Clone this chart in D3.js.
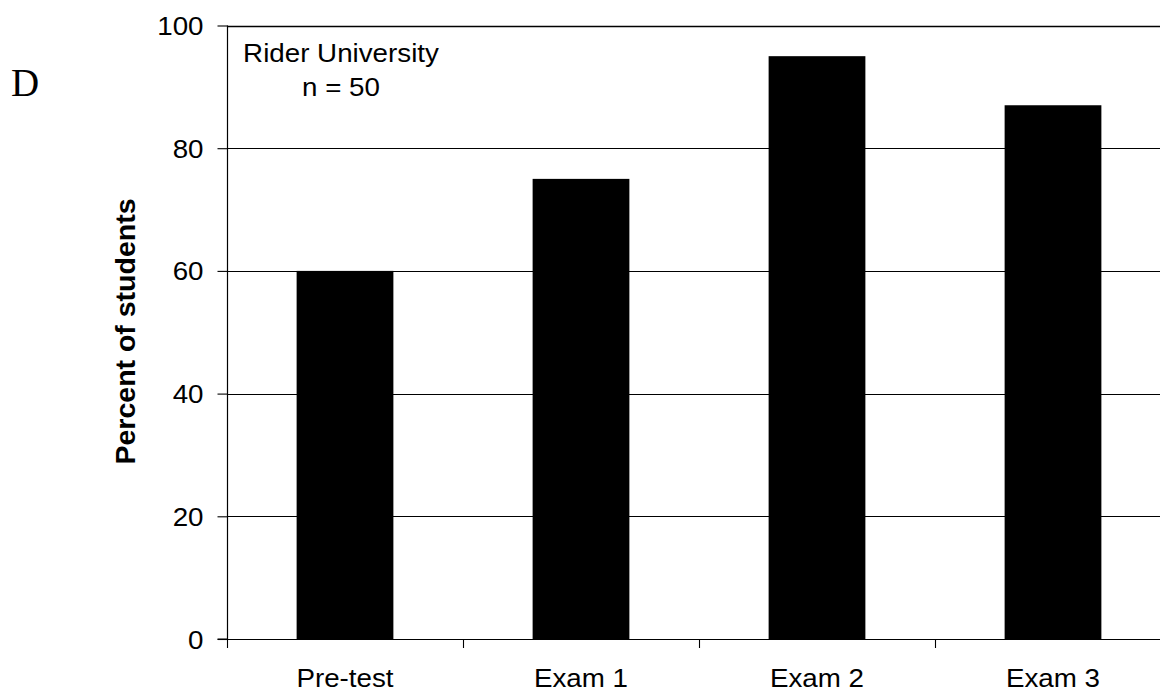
<!DOCTYPE html>
<html>
<head>
<meta charset="utf-8">
<script src="https://cdn.jsdelivr.net/npm/d3@7"></script>
<style>
  html, body { margin: 0; padding: 0; background: #fff; }
  svg { display: block; }
  text { font-family: "Liberation Sans", Arial, sans-serif; fill: #000; }
</style>
</head>
<body>
<svg id="chart" width="1160" height="692"></svg>
<script>
const categories = ["Pre-test", "Exam 1", "Exam 2", "Exam 3"];
const values = [60, 75, 95, 87];
const yTicks = [0, 20, 40, 60, 80, 100];
const panelLabel = "D";
const yTitle = "Percent of students";
const noteLines = ["Rider University", "n = 50"];

(function () {
const svg = d3.select("#chart");
const pLeft = 227, pRight = 1171, pTop = 25.5, pBottom = 639;
const fs = 25, sx = 1.11;

const x = d3.scaleBand().domain(categories).range([pLeft, pRight])
  .paddingInner(0.59).paddingOuter(0.295);
const y = d3.scaleLinear().domain([0, 100]).range([pBottom, pTop]);

// gridlines
svg.append("g").selectAll("line").data(yTicks.filter(d => d > 0)).join("line")
  .attr("x1", pLeft).attr("x2", pRight)
  .attr("y1", d => Math.round(y(d)) + 0.5).attr("y2", d => Math.round(y(d)) + 0.5)
  .attr("stroke", "#000").attr("stroke-width", d => d === 100 ? 1.6 : 1.1);

// bars
svg.append("g").selectAll("rect").data(values).join("rect")
  .attr("x", (d, i) => x(categories[i]))
  .attr("width", x.bandwidth())
  .attr("y", d => y(d))
  .attr("height", d => y(0) - y(d))
  .attr("fill", "#000");

// y axis
const yAxis = d3.axisLeft(y).tickValues(yTicks).tickSize(10).tickPadding(14).tickFormat(d3.format("d"));
const gy = svg.append("g").attr("transform", `translate(${pLeft + 0.5},0)`).call(yAxis);
gy.select(".domain").attr("stroke", "#000").attr("stroke-width", 1.2).attr("d", `M-10,${pBottom}H0V${pTop}`);
gy.selectAll(".tick line").attr("stroke", "#000").attr("stroke-width", 1.1);
gy.selectAll(".tick text").attr("font-size", fs).attr("font-family", "Liberation Sans, Arial, sans-serif")
  .attr("fill", "#000").attr("dy", "0.36em")
  .each(function () {
    const t = d3.select(this);
    const xx = +t.attr("x");
    t.attr("transform", `translate(${xx},0) scale(${sx},1) translate(${-xx},0)`);
  });

// x axis
const bounds = categories.map(c => x(c) - x.step() * 0.295).concat([pRight]);
const gx = svg.append("g");
gx.append("line").attr("x1", pLeft).attr("x2", pRight).attr("y1", pBottom + 0.5).attr("y2", pBottom + 0.5)
  .attr("stroke", "#000").attr("stroke-width", 1.2);
gx.selectAll("line.tk").data(bounds).join("line").attr("class", "tk")
  .attr("x1", d => Math.round(d) + 0.5).attr("x2", d => Math.round(d) + 0.5)
  .attr("y1", pBottom).attr("y2", pBottom + 9)
  .attr("stroke", "#000").attr("stroke-width", 1.1);
gx.selectAll("text").data(categories).join("text")
  .attr("transform", d => `translate(${x(d) + x.bandwidth() / 2},687) scale(${sx},1)`)
  .attr("text-anchor", "middle").attr("font-size", fs).text(d => d);

// y title
svg.append("text")
  .attr("transform", "translate(135,331.5) rotate(-90)")
  .attr("text-anchor", "middle").attr("font-size", 28.5).attr("font-weight", "bold")
  .text(yTitle);

// note
svg.append("g").selectAll("text").data(noteLines).join("text")
  .attr("transform", (d, i) => `translate(341,${i === 0 ? 62 : 96}) scale(${sx},1)`)
  .attr("text-anchor", "middle").attr("font-size", fs).text(d => d);

// panel label
svg.append("text").attr("x", 11).attr("y", 96)
  .attr("font-size", 39)
  .style("font-family", "'Liberation Serif', 'Times New Roman', serif")
  .text(panelLabel);
})();
</script>
</body>
</html>
